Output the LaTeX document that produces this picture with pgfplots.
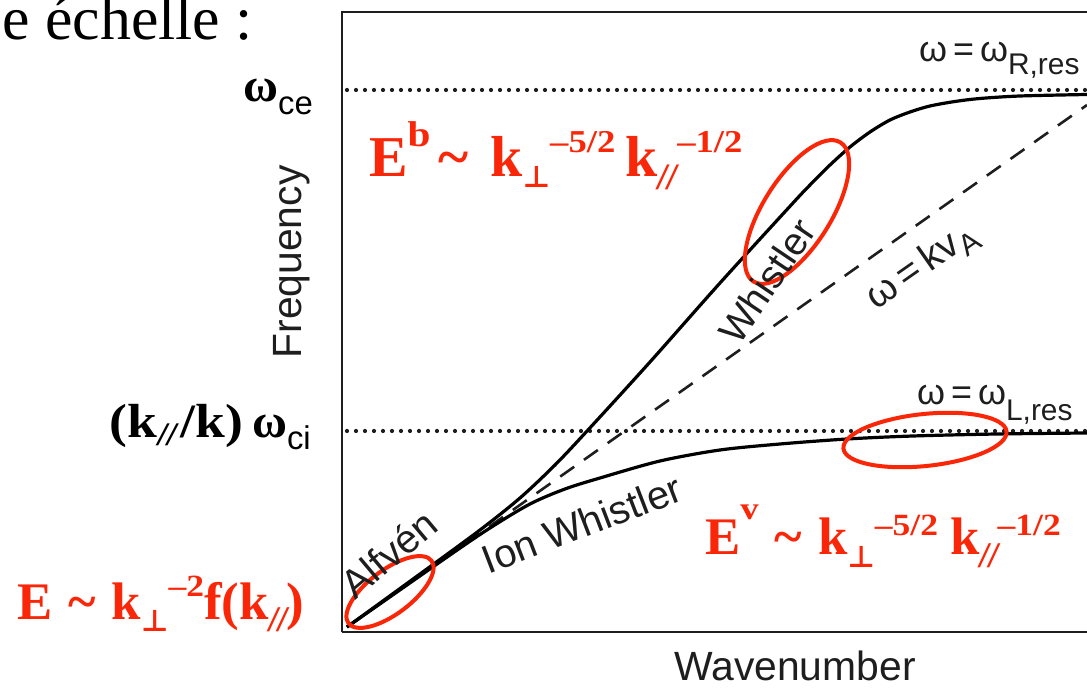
\documentclass[border=0pt]{standalone}
\usepackage{fontspec}
\usepackage{pgfplots}
\pgfplotsset{compat=1.18}
\setmainfont{Liberation Serif}
\newfontfamily\hv{Liberation Sans}
\newfontfamily\djs{DejaVu Sans}
\definecolor{rd}{RGB}{250,38,8}
\definecolor{ink}{RGB}{30,30,30}
\newcommand{\fs}[1]{\fontsize{#1}{#1}\selectfont}
% \sups{raise}{size}{text}, \subs{lower}{size}{text}
\newcommand{\sups}[3]{\raisebox{#1}{\scalebox{1.15}[1]{\fs{#2}#3}}}
\newcommand{\subs}[3]{\raisebox{-#1}{\fs{#2}#3}}
\newcommand{\perpsym}{{\djs\bfseries ⊥}}
\newcommand{\parsym}{{\hv\mdseries\itshape //}}
\begin{document}
\begin{tikzpicture}
\begin{axis}[x=1bp, y=1bp, xmin=342, xmax=1087, ymin=57, ymax=677,
  axis lines=none, clip=false]
% frame
\draw[ink, line width=2.5bp] (axis cs:342,57) -- (axis cs:342,677) -- (axis cs:1087,677);
\draw[ink, line width=2.5bp] (axis cs:342,57) -- (axis cs:1087,57);
% resonance lines (dotted)
\addplot[ink, line width=4.2bp, dash pattern=on 0bp off 9bp, line cap=round] coordinates {(347,599) (1087,599)};
\addplot[ink, line width=4.2bp, dash pattern=on 0bp off 9bp, line cap=round] coordinates {(347,258) (1087,258)};
% omega = k vA
\addplot[ink, line width=2.6bp, dash pattern=on 17bp off 12bp] coordinates {(347,62) (1087,584)};
% Whistler branch
\addplot[black, line width=3.2bp, smooth, tension=0.5] coordinates {
(347,62) (420,115) (480,159) (520,191) (555,224) (588,259) (650,327) (720,406)
(793,486) (810,504) (830,524) (850,542) (870,557) (890,569) (910,577) (930,583)
(955,587.5) (980,590.5) (1020,593) (1087,594.5)};
% Ion whistler branch
\addplot[black, line width=3.2bp, smooth, tension=0.5] coordinates {
(347,62) (450,134) (490,161) (530,185) (565,200) (600,211) (660,228) (720,239)
(780,245) (847,250) (913,253) (997,255) (1087,256)};
% red ellipses
\draw[rd, line width=4bp, rotate around={37:(axis cs:390,97)}] (axis cs:390,97) ellipse [x radius=52bp, y radius=22bp];
\draw[rd, line width=4bp, rotate around={58:(axis cs:797,477)}] (axis cs:797,477) ellipse [x radius=82bp, y radius=34bp];
\draw[rd, line width=4bp, rotate around={6:(axis cs:925,249)}] (axis cs:925,249) ellipse [x radius=82bp, y radius=26bp];
% chart labels
\node[ink, rotate=90, anchor=center] at (axis cs:292,427) {\hv\fs{41}Frequency};
\node[ink, anchor=base] at (axis cs:795,8) {\hv\fs{41}Wavenumber};
\node[ink, anchor=base west, inner sep=0pt] at (axis cs:919,627) {\hv\fs{36}ω\,=\,ω\subs{13bp}{30}{R,res}};
\node[ink, anchor=base west, inner sep=0pt] at (axis cs:917,284) {\hv\fs{36}ω\,=\,ω\subs{16bp}{30}{L,res}};
\node[ink, rotate=56, anchor=center] at (axis cs:767,408) {\hv\fs{39}Whistler};
\node[ink, rotate=35, anchor=center] at (axis cs:922,422) {\hv\fs{39}ω\,=\,kv\subs{9bp}{30}{A}};
\node[ink, rotate=40, anchor=base, inner sep=0pt] at (axis cs:398,124) {\hv\fs{40}Alfvén};
\node[ink, rotate=21, anchor=base, inner sep=0pt] at (axis cs:587,152) {\hv\fs{40}Ion Whistler};
% left labels
\node[black, anchor=base east, inner sep=0pt] at (axis cs:253,649) {\fs{62}e échelle :};
\node[black, anchor=base east, inner sep=0pt] at (axis cs:313,587) {\fs{48}\bfseries ω\subs{13bp}{33}{\hv\mdseries ce}};
\node[black, anchor=base east, inner sep=0pt] at (axis cs:311,251) {\fs{48}\bfseries \scalebox{1.12}[1]{(k\subs{8bp}{30}{\parsym}\hspace{4bp}/k)}\hspace{9bp}ω\subs{12bp}{33}{\hv\mdseries ci}};
% red labels
\node[rd, anchor=base west, inner sep=0pt] at (axis cs:17,69) {\fs{53}\bfseries E\hspace{16bp}\textasciitilde\hspace{16bp}k\subs{12bp}{30}{\perpsym}\sups{23bp}{31}{–2}f(k\subs{12bp}{33}{\parsym})};
\node[rd, anchor=base west, inner sep=0pt] at (axis cs:369,512) {\fs{58}\bfseries E\sups{30bp}{36}{b}\hspace{8bp}\textasciitilde\hspace{22bp}k\subs{11bp}{30}{\perpsym}\sups{24bp}{32}{–5/2}\hspace{10bp}k\subs{13bp}{34}{\parsym}\hspace{1bp}\sups{24bp}{32}{–1/2}};
\node[rd, anchor=base west, inner sep=0pt] at (axis cs:705,134) {\fs{53}\bfseries E\sups{35bp}{32}{v}\hspace{16bp}\textasciitilde\hspace{16bp}k\subs{13bp}{30}{\perpsym}\sups{19bp}{31}{–5/2}\hspace{12bp}k\subs{13bp}{33}{\parsym}\sups{19bp}{31}{–1/2}};
\coordinate (BL) at (axis cs:0,0);
\coordinate (TR) at (axis cs:1087,689);
\end{axis}
\pgfresetboundingbox
\path[use as bounding box] (BL) rectangle (TR);
\end{tikzpicture}
\end{document}
